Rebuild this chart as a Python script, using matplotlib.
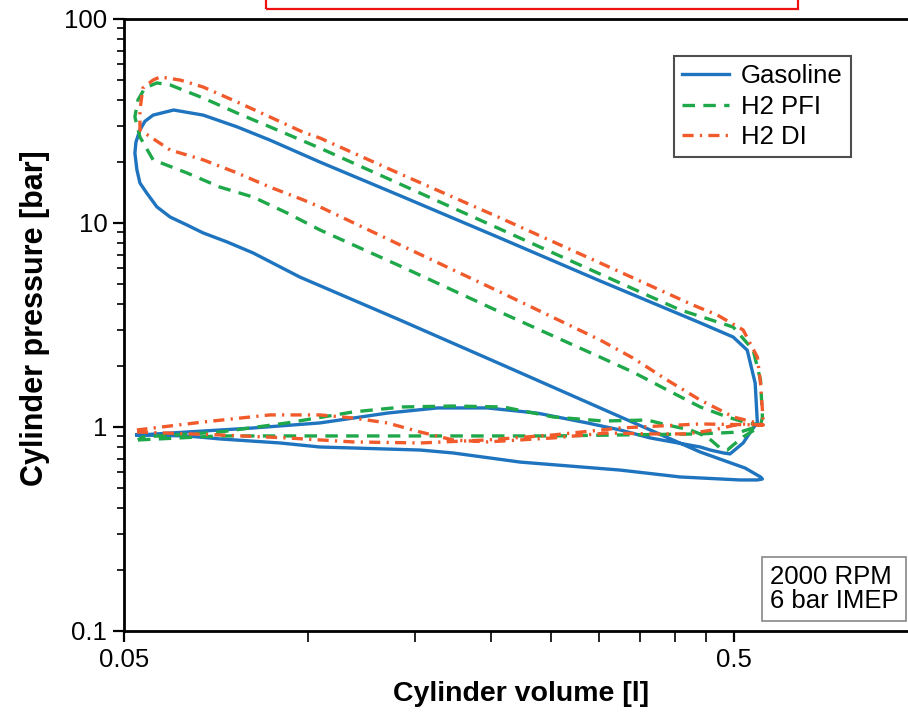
import matplotlib
matplotlib.use("Agg")
import matplotlib.pyplot as plt
from matplotlib.ticker import FixedLocator, NullFormatter, LogLocator
from matplotlib.patches import Rectangle

plt.rcParams['font.family'] = ['Liberation Sans', 'DejaVu Sans']
plt.rcParams['lines.scale_dashes'] = False

# ---------------- data (volume [l], pressure [bar]) ----------------
gas_V = [0.0525, 0.0634, 0.0718, 0.0901, 0.1047, 0.1529, 0.173, 0.2229, 0.325, 0.4076, 0.5115, 0.5455, 0.556,
         0.552, 0.521, 0.4397, 0.3014, 0.2066, 0.1418, 0.0971, 0.0814, 0.0738, 0.0674, 0.0634, 0.0595, 0.0566,
         0.0545, 0.0531, 0.0525, 0.0521, 0.0523,
         0.0531, 0.0541, 0.0558, 0.0603, 0.0674, 0.0766, 0.0867, 0.1047,
         0.1418, 0.2066, 0.3014, 0.4397, 0.498, 0.525, 0.541, 0.5455,
         0.537, 0.517, 0.492, 0.480, 0.4568, 0.4397, 0.364, 0.325, 0.2871, 0.2377, 0.1968, 0.163, 0.135,
         0.1047, 0.0814, 0.0634, 0.0531, 0.0525]
gas_p = [0.914, 0.904, 0.874, 0.835, 0.798, 0.771, 0.746, 0.673, 0.615, 0.569, 0.550, 0.550, 0.556,
         0.569, 0.629, 0.754, 1.24, 2.04, 3.34, 5.43, 7.13, 8.07, 8.94, 9.78, 10.7, 12.0,
         14.0, 15.7, 18.2, 22.0, 24.9,
         28.6, 31.5, 33.8, 35.8, 33.8, 29.6, 25.5, 19.9,
         13.6, 8.44, 5.20, 3.24, 2.76, 2.38, 1.64, 1.047,
         0.989, 0.835, 0.738, 0.746, 0.771, 0.798, 0.884, 0.967, 1.047, 1.17, 1.24, 1.24, 1.17,
         1.047, 0.989, 0.945, 0.914, 0.914]

pfi_V = [0.0527, 0.0718, 0.0925, 0.1186, 0.173, 0.2524, 0.325, 0.4397, 0.5115, 0.556,
         0.525, 0.487, 0.4397, 0.388, 0.341, 0.3014, 0.2066, 0.1418, 0.1047, 0.0925, 0.0814, 0.0718, 0.0634,
         0.0558, 0.0531, 0.0521, 0.0527, 0.0541, 0.0566, 0.0595, 0.0674, 0.0766, 0.0867, 0.1047,
         0.1418, 0.2066, 0.3014, 0.4076, 0.498, 0.537, 0.552, 0.556,
         0.552, 0.517, 0.498, 0.487, 0.474, 0.4515, 0.4237, 0.388, 0.360, 0.305, 0.2524, 0.209, 0.173,
         0.1433, 0.1186, 0.0925, 0.0718, 0.0537, 0.0527]
pfi_p = [0.864, 0.904, 0.904, 0.904, 0.904, 0.904, 0.914, 0.925, 0.945, 1.023,
         1.047, 1.12, 1.254, 1.52, 1.86, 2.20, 3.66, 6.15, 9.25, 11.2, 13.4, 15.0, 17.6,
         20.4, 26.4, 33.1, 40.1, 45.9, 48.6, 47.5, 41.0, 34.6, 29.6, 23.3,
         15.5, 9.34, 5.62, 3.75, 3.09, 2.38, 1.70, 1.12,
         1.01, 0.894, 0.816, 0.771, 0.789, 0.894, 0.967, 1.023, 1.082, 1.07, 1.12, 1.254, 1.267,
         1.254, 1.185, 1.047, 0.945, 0.894, 0.864]

di_V = [0.0525, 0.0718, 0.0925, 0.1186, 0.1529, 0.1968, 0.2524, 0.325, 0.4397, 0.558,
        0.537, 0.498, 0.474, 0.4397, 0.388, 0.341, 0.3014, 0.2066, 0.1418, 0.1047, 0.0982, 0.0867, 0.0766,
        0.0674, 0.0595, 0.0531, 0.0531, 0.0537, 0.0558, 0.0573, 0.0618, 0.0674, 0.0766, 0.0867, 0.0982,
        0.1047, 0.1418, 0.2066, 0.3014, 0.428, 0.469, 0.517, 0.5455, 0.552, 0.556, 0.558,
        0.511, 0.462, 0.418, 0.364, 0.310, 0.2524, 0.1968, 0.173, 0.1529, 0.135, 0.1186, 0.1047, 0.0867,
        0.0674, 0.0525]
di_p = [0.945, 0.914, 0.884, 0.845, 0.835, 0.864, 0.914, 0.989, 1.035, 1.023,
        1.058, 1.12, 1.21, 1.355, 1.70, 2.18, 2.67, 4.59, 7.80, 12.0, 13.0, 15.0, 17.6,
        20.4, 22.8, 28.6, 35.8, 45.9, 50.2, 52.0, 50.2, 46.4, 39.2, 33.1, 27.9,
        26.1, 17.4, 10.6, 6.37, 3.96, 3.54, 2.99, 2.20, 1.64, 1.21, 1.023,
        1.035, 0.967, 0.925, 0.925, 0.935, 0.884, 0.845, 0.864, 0.945, 1.047, 1.107, 1.146, 1.146,
        1.058, 0.967]

series_labels = ['Gasoline', 'H2 PFI', 'H2 DI']
x_major = [0.05, 0.5]
x_major_labels = ['0.05', '0.5']
x_minor = [0.10, 0.15, 0.20, 0.25, 0.30, 0.35, 0.40, 0.45]
y_major = [0.1, 1, 10, 100]
y_major_labels = ['0.1', '1', '10', '100']
box_text = '2000 RPM\n6 bar IMEP'

# ---------------- figure ----------------
W, H = 908, 714
fig = plt.figure(figsize=(W / 100, H / 100), dpi=100)
ax = fig.add_axes([124 / W, 83 / H, (918 - 124) / W, 612 / H])

c_blue = '#1f74bf'
c_green = '#1fa84a'
c_red = '#f15a2b'

ax.plot(gas_V, gas_p, color=c_blue, lw=2.4, solid_joinstyle='round', label=series_labels[0])
ax.plot(pfi_V, pfi_p, color=c_green, lw=2.4, dashes=(9, 6), label=series_labels[1])
ax.plot(di_V, di_p, color=c_red, lw=2.4, dashes=(8, 4.5, 1.6, 4.5), label=series_labels[2])

ax.set_xscale('log')
ax.set_yscale('log')
ax.set_xlim(0.05, 1.0)
ax.set_ylim(0.1, 100)

ax.xaxis.set_major_locator(FixedLocator(x_major))
ax.xaxis.set_minor_locator(FixedLocator(x_minor))
ax.set_xticklabels(x_major_labels)
ax.xaxis.set_minor_formatter(NullFormatter())
ax.yaxis.set_major_locator(FixedLocator(y_major))
ax.set_yticklabels(y_major_labels)
ax.yaxis.set_minor_locator(LogLocator(base=10, subs=[2, 3, 4, 5, 6, 7, 8, 9]))
ax.yaxis.set_minor_formatter(NullFormatter())

ax.tick_params(axis='both', which='major', direction='out', width=1.6, labelsize=18.5, color='black')
ax.tick_params(axis='x', which='both', length=8, pad=4)
ax.tick_params(axis='x', which='minor', width=1.2)
ax.tick_params(axis='y', which='major', length=8, pad=4)
ax.tick_params(axis='y', which='minor', length=5, width=1.2)
ax.tick_params(top=False, right=False, which='both')

for s in ['left', 'bottom', 'top']:
    ax.spines[s].set_linewidth(2.0)
ax.spines['right'].set_visible(False)

ax.set_xlabel('Cylinder volume [l]', fontsize=20.5, fontweight='bold', labelpad=7)
ax.set_ylabel('Cylinder pressure [bar]', fontsize=22, fontweight='bold')
ax.yaxis.set_label_coords(-0.093, 0.512)

leg = ax.legend(loc='upper right', bbox_to_anchor=((851 - 124) / 794, (631 - 56) / 612),
                borderaxespad=0, fontsize=18.5, frameon=True, fancybox=False,
                handlelength=1.85, handletextpad=0.45, borderpad=0.32, labelspacing=0.25)
leg.get_frame().set_edgecolor('#222222')
leg.get_frame().set_linewidth(1.5)

fig.text(770 / W, (714 - 589) / H, box_text, fontsize=18.5, va='center', ha='left', linespacing=1.0,
         bbox=dict(boxstyle='square,pad=0.3', fc='white', ec='#888888', lw=1.2))

# cropped caption frame at the top
fig.patches.append(Rectangle((266 / W, (H - 9) / H), (798 - 266) / W, 0.05, transform=fig.transFigure,
                             fill=False, ec='#ee1111', lw=1.6))

fig.savefig('out.png', dpi=100)
